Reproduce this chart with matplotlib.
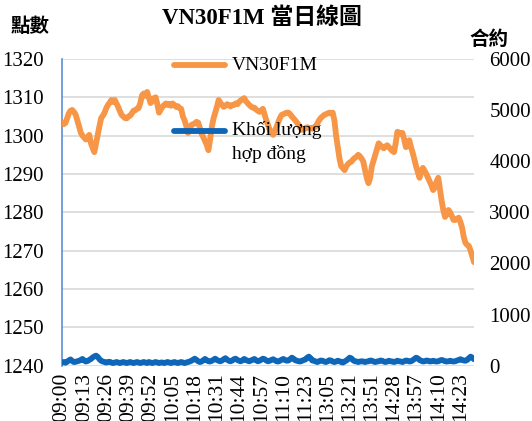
import matplotlib
matplotlib.use("Agg")
import matplotlib.pyplot as plt
import numpy as np
from matplotlib.lines import Line2D

title = "VN30F1M 當日線圖"
left_label = "點數"
right_label = "合約"
series_price_name = "VN30F1M"
series_vol_name = "Khối lượng\nhợp đồng"

tick_labels = ["09:00", "09:13", "09:26", "09:39", "09:52", "10:05", "10:18", "10:31",
               "10:44", "10:57", "11:10", "11:23", "13:05", "13:21", "13:51", "14:28",
               "13:57", "14:10", "14:23"]
tick_step = 13

price = [
    1303.5, 1303.0, 1303.3, 1304.5, 1305.8, 1306.5, 1306.7, 1306.2, 1305.5, 1304.0, 1302.5,
    1300.8, 1300.0, 1299.5, 1299.0, 1299.6, 1300.2, 1298.0, 1296.8, 1295.7, 1298.0,
    1300.2, 1302.5, 1304.6, 1305.2, 1306.0, 1307.2, 1308.0, 1308.6, 1309.3, 1308.8,
    1309.3, 1308.4, 1307.5, 1306.4, 1305.4, 1305.0, 1304.6, 1304.5, 1305.0, 1305.2,
    1305.8, 1306.5, 1306.6, 1307.0, 1307.2,
    1308.5, 1310.5, 1311.0, 1310.4, 1311.4, 1310.0, 1308.5,
    1309.0, 1309.8, 1310.0, 1308.2, 1306.0, 1306.8, 1307.5, 1308.0,
    1308.4, 1308.0, 1308.3, 1307.8, 1308.4, 1308.0, 1307.5, 1307.7, 1307.2, 1307.0,
    1305.0, 1304.0, 1302.5, 1300.7, 1301.5, 1302.8, 1303.0, 1303.2, 1303.6, 1303.4,
    1302.0, 1300.5, 1299.6, 1298.6, 1297.6, 1296.2, 1299.0, 1302.3, 1304.5, 1306.0,
    1307.5, 1309.3, 1308.6, 1308.0, 1307.5, 1307.8, 1308.2, 1308.0, 1307.6, 1308.0,
    1308.0, 1308.4, 1308.2, 1308.8, 1309.2, 1309.5, 1309.8, 1309.0, 1308.5, 1308.0,
    1307.6, 1307.3, 1307.3, 1306.8, 1306.5, 1306.2, 1306.6, 1307.0, 1305.5, 1304.0,
    1302.8, 1301.5, 1300.8, 1300.2, 1301.2, 1302.3, 1303.5, 1304.6, 1305.4, 1305.6,
    1305.8, 1306.0, 1306.0, 1305.6, 1305.0, 1304.5, 1304.0, 1303.4, 1302.8, 1302.0,
    1301.5, 1301.6, 1302.0, 1302.2, 1302.0, 1302.0, 1301.8, 1302.2, 1302.3, 1303.2,
    1304.0, 1304.6, 1305.0, 1305.4, 1305.6, 1305.8, 1306.0, 1305.8, 1306.0, 1304.0,
    1300.0, 1297.0, 1294.0, 1292.0, 1291.5, 1291.0, 1292.0, 1292.6, 1293.0, 1293.2,
    1293.8, 1294.2, 1294.5, 1295.0, 1294.6, 1294.0, 1293.2, 1291.0, 1289.0, 1287.6,
    1289.0, 1292.0, 1293.5, 1295.0, 1296.5, 1298.0, 1297.5, 1297.0, 1296.7, 1297.2,
    1297.5, 1297.0, 1296.5, 1296.0, 1295.7, 1298.0, 1301.0, 1300.8, 1300.5, 1300.7,
    1299.0, 1297.0, 1298.0, 1298.8, 1297.0, 1295.5, 1293.7, 1292.0, 1290.5, 1289.0,
    1290.5, 1291.6, 1290.8, 1290.0, 1289.0, 1288.0, 1287.0, 1285.8, 1286.5, 1288.0,
    1289.0, 1286.0, 1283.0, 1280.5, 1278.8, 1279.5, 1280.6, 1280.0, 1279.0, 1278.0,
    1278.0, 1278.3, 1278.6, 1277.5, 1276.0, 1273.5, 1272.0, 1271.5, 1271.2, 1270.0,
    1268.5, 1267.0,
]

volume = [
    60, 70, 55, 75, 100, 120, 90, 70, 75, 85, 95, 110, 130, 100, 80, 90, 110, 130, 160, 180,
    195, 170, 125, 95, 80, 70, 60, 70, 75, 60, 50, 60, 70, 60, 50, 60, 70, 60, 50, 60,
    70, 60, 50, 60, 70, 60, 50, 60, 70, 60, 50, 70, 60, 50, 60, 70, 60, 50, 60, 60,
    50, 60, 70, 60, 50, 60, 70, 60, 50, 60, 70, 60, 50, 60, 70, 80, 95, 115, 135, 110,
    85, 70, 80, 105, 130, 105, 85, 80, 95, 115, 135, 110, 95, 85, 100, 125, 145, 115, 95, 85,
    100, 125, 135, 110, 95, 85, 105, 130, 110, 95, 85, 100, 115, 130, 105, 85, 95, 115, 135, 125,
    100, 85, 95, 110, 125, 105, 85, 80, 95, 115, 130, 110, 95, 100, 125, 155, 135, 105, 95, 85,
    80, 95, 110, 120, 155, 175, 145, 100, 95, 80, 70, 85, 100, 95, 80, 70, 85, 105, 100, 80,
    70, 80, 95, 85, 70, 60, 80, 100, 125, 155, 140, 105, 85, 80, 70, 80, 85, 80, 70, 80,
    85, 100, 95, 80, 70, 80, 85, 100, 95, 80, 70, 80, 95, 85, 80, 70, 80, 95, 85, 80,
    70, 85, 100, 95, 80, 85, 105, 130, 155, 140, 110, 95, 80, 85, 100, 95, 80, 85, 95, 85,
    80, 85, 100, 110, 100, 85, 80, 85, 95, 85, 80, 85, 100, 110, 125, 110, 100, 95, 110, 145,
    175, 155, 125,
]

orange = "#f79646"
blue = "#0e66b8"
serif = ["Liberation Serif", "Noto Sans CJK TC", "DejaVu Sans"]
cjk = ["Liberation Serif", "Noto Sans CJK TC"]

fig = plt.figure(figsize=(5.32, 4.21), dpi=100)
ax = fig.add_axes([62 / 532, 1 - 365.6 / 421, (474 - 62) / 532, (365.6 - 59) / 421])
ax2 = ax.twinx()

xp = np.arange(len(price))
xv = np.arange(len(volume))
ax.plot(xp, price, color=orange, lw=4.2, solid_capstyle="round", solid_joinstyle="round", zorder=3)
ax2.plot(xv, volume, color=blue, lw=4.2, solid_capstyle="round", solid_joinstyle="round", zorder=3)

ax.set_xlim(0, len(price) - 1)
ax.set_ylim(1240, 1320)
ax.set_yticks(np.arange(1240, 1321, 10))
ax2.set_ylim(0, 6000)
ax2.set_yticks(np.arange(0, 6001, 1000))
ax.set_xticks(np.arange(len(tick_labels)) * tick_step)
ax.set_xticklabels(tick_labels, rotation=90, fontsize=15.5, family=serif)

ax.grid(axis="y", color="#d9d9d9", lw=1.2, zorder=0)
ax.set_axisbelow(True)
for s in ["top", "right", "bottom"]:
    ax.spines[s].set_visible(False)
    ax2.spines[s].set_visible(False)
ax2.spines["left"].set_visible(False)
ax.spines["left"].set_color("#5b8fd6")
ax.spines["left"].set_linewidth(1.2)

ax.tick_params(axis="y", length=0, pad=13, labelsize=15)
ax.tick_params(axis="x", length=0, pad=5)
ax2.tick_params(axis="y", length=0, pad=11, labelsize=15)
for lab in ax.get_yticklabels() + ax2.get_yticklabels():
    lab.set_family(serif)

fig.text(262 / 532, 1 - 18 / 421, title, ha="center", va="center", fontsize=16.5,
         fontweight="bold", family=cjk)
fig.text(30 / 532, 1 - 27 / 421, left_label, ha="center", va="center", fontsize=14,
         fontweight="bold", family=["Noto Sans CJK TC"])
fig.text(489 / 532, 1 - 39 / 421, right_label, ha="center", va="center", fontsize=14,
         fontweight="bold", family=["Noto Sans CJK TC"])

# legend
fig.add_artist(Line2D([174 / 532, 225 / 532], [1 - 65 / 421, 1 - 65 / 421],
                      color=orange, lw=4.2, solid_capstyle="round"))
fig.text(232 / 532, 1 - 65 / 421, series_price_name, ha="left", va="center",
         fontsize=14, family=serif)
fig.add_artist(Line2D([174 / 532, 225 / 532], [1 - 131 / 421, 1 - 131 / 421],
                      color=blue, lw=4.2, solid_capstyle="round"))
fig.text(232 / 532, 1 - 121 / 421, series_vol_name, ha="left", va="top",
         fontsize=14, family=serif, linespacing=1.45)

fig.savefig("out.png", dpi=100)
